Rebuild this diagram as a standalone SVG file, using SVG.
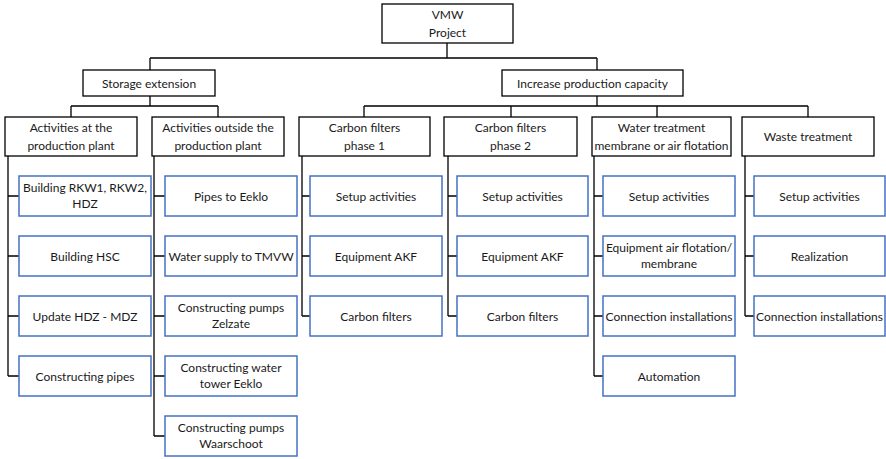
<svg xmlns="http://www.w3.org/2000/svg" width="886" height="459" viewBox="0 0 886 459">
<style>
.bk{fill:#fff;stroke:#000;stroke-width:1.3}
.bl{fill:#fff;stroke:#4472C4;stroke-width:1.5}
text{font-family:Lato,"Open Sans",sans-serif;font-size:12px;fill:#1a1a1a;text-anchor:middle}
.c{fill:none;stroke:#000;stroke-width:1.3}
</style>
<rect width="886" height="459" fill="#fff"/>
<g id="connectors" class="c">
<path d="M447 43V58M150 58H597M150 58V70M597 58V70"/>
<path d="M150 96V106M71 106H218M71 106V117M218 106V117"/>
<path d="M597 96V106M364 106H808M364 106V117M511 106V117M657 106V117M808 106V117"/>
<path d="M8 156V376M8 196H19M8 256H19M8 316H19M8 376H19"/>
<path d="M154 156V436M154 196H165M154 256H165M154 316H165M154 376H165M154 436H165"/>
<path d="M302 156V316M302 196H310M302 256H310M302 316H310"/>
<path d="M448 156V316M448 196H457M448 256H457M448 316H457"/>
<path d="M594 156V376M594 196H603M594 256H603M594 316H603M594 376H603"/>
<path d="M745 156V316M745 196H754M745 256H754M745 316H754"/>
</g>
<g id="n-root"><rect class="bk" x="382" y="4" width="131" height="39"/><text x="447.5" y="19">VMW</text><text x="447.5" y="37">Project</text></g>
<g id="n-storage"><rect class="bk" x="83" y="70" width="132" height="26"/><text x="149" y="87.5">Storage extension</text></g>
<g id="n-increase"><rect class="bk" x="502" y="70" width="181" height="26"/><text x="592.5" y="87.5">Increase production capacity</text></g>
<g id="n-at"><rect class="bk" x="5" y="117" width="132" height="39"/><text x="71" y="132">Activities at the</text><text x="71" y="150">production plant</text></g>
<g id="n-outside"><rect class="bk" x="152" y="117" width="132" height="39"/><text x="218" y="132">Activities outside the</text><text x="218" y="150">production plant</text></g>
<g id="n-cf1"><rect class="bk" x="299" y="117" width="131" height="39"/><text x="364.5" y="132">Carbon filters</text><text x="364.5" y="150">phase 1</text></g>
<g id="n-cf2"><rect class="bk" x="444" y="117" width="133" height="39"/><text x="510.5" y="132">Carbon filters</text><text x="510.5" y="150">phase 2</text></g>
<g id="n-water"><rect class="bk" x="592" y="117" width="139" height="39"/><text x="661.5" y="132">Water treatment</text><text x="661.5" y="150">membrane or air flotation</text></g>
<g id="n-waste"><rect class="bk" x="742" y="117" width="132" height="39"/><text x="808" y="140.5">Waste treatment</text></g>
<g id="n-a1"><rect class="bl" x="19" y="176" width="132" height="40"/><text x="85" y="192">Building RKW1, RKW2,</text><text x="85" y="208">HDZ</text></g>
<g id="n-a2"><rect class="bl" x="19" y="236" width="132" height="40"/><text x="85" y="260.5">Building HSC</text></g>
<g id="n-a3"><rect class="bl" x="19" y="296" width="132" height="40"/><text x="85" y="320.5">Update HDZ - MDZ</text></g>
<g id="n-a4"><rect class="bl" x="19" y="356" width="132" height="40"/><text x="85" y="380.5">Constructing pipes</text></g>
<g id="n-b1"><rect class="bl" x="165" y="176" width="132" height="40"/><text x="231" y="200.5">Pipes to Eeklo</text></g>
<g id="n-b2"><rect class="bl" x="165" y="236" width="132" height="40"/><text x="231" y="260.5">Water supply to TMVW</text></g>
<g id="n-b3"><rect class="bl" x="165" y="296" width="132" height="40"/><text x="231" y="312">Constructing pumps</text><text x="231" y="328">Zelzate</text></g>
<g id="n-b4"><rect class="bl" x="165" y="356" width="132" height="40"/><text x="231" y="372">Constructing water</text><text x="231" y="388">tower Eeklo</text></g>
<g id="n-b5"><rect class="bl" x="165" y="416" width="132" height="40"/><text x="231" y="432">Constructing pumps</text><text x="231" y="448">Waarschoot</text></g>
<g id="n-c1"><rect class="bl" x="310" y="176" width="132" height="40"/><text x="376" y="200.5">Setup activities</text></g>
<g id="n-c2"><rect class="bl" x="310" y="236" width="132" height="40"/><text x="376" y="260.5">Equipment AKF</text></g>
<g id="n-c3"><rect class="bl" x="310" y="296" width="132" height="40"/><text x="376" y="320.5">Carbon filters</text></g>
<g id="n-d1"><rect class="bl" x="457" y="176" width="131" height="40"/><text x="522.5" y="200.5">Setup activities</text></g>
<g id="n-d2"><rect class="bl" x="457" y="236" width="131" height="40"/><text x="522.5" y="260.5">Equipment AKF</text></g>
<g id="n-d3"><rect class="bl" x="457" y="296" width="131" height="40"/><text x="522.5" y="320.5">Carbon filters</text></g>
<g id="n-e1"><rect class="bl" x="603" y="176" width="132" height="40"/><text x="669" y="200.5">Setup activities</text></g>
<g id="n-e2"><rect class="bl" x="603" y="236" width="132" height="40"/><text x="669" y="252">Equipment air flotation/</text><text x="669" y="268">membrane</text></g>
<g id="n-e3"><rect class="bl" x="603" y="296" width="132" height="40"/><text x="669" y="320.5">Connection installations</text></g>
<g id="n-e4"><rect class="bl" x="603" y="356" width="132" height="40"/><text x="669" y="380.5">Automation</text></g>
<g id="n-f1"><rect class="bl" x="754" y="176" width="131" height="40"/><text x="819.5" y="200.5">Setup activities</text></g>
<g id="n-f2"><rect class="bl" x="754" y="236" width="131" height="40"/><text x="819.5" y="260.5">Realization</text></g>
<g id="n-f3"><rect class="bl" x="754" y="296" width="131" height="40"/><text x="819.5" y="320.5">Connection installations</text></g>
</svg>
